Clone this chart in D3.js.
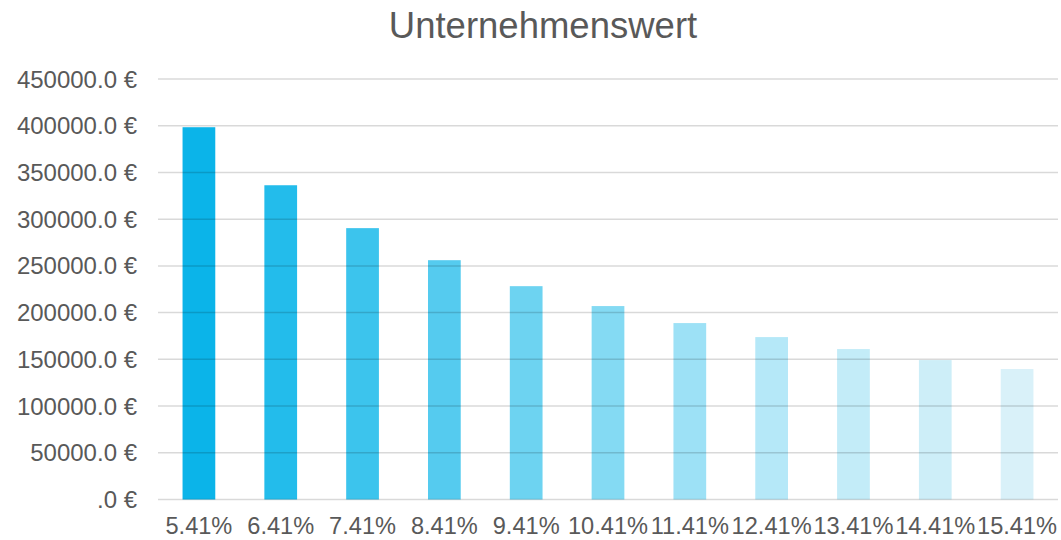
<!DOCTYPE html>
<html lang="de">
<head>
<meta charset="UTF-8">
<title>Unternehmenswert</title>
<script src="https://d3js.org/d3.v7.min.js"></script>
<style>
    body { margin: 0; background: #fff; }
    text { font-family: "Liberation Sans", Arial, sans-serif; fill: #595959; }
</style>
</head>
<body>
<svg id="chart"></svg>
<script>
    // data
    const rates = ["5.41%", "6.41%", "7.41%", "8.41%", "9.41%", "10.41%", "11.41%", "12.41%", "13.41%", "14.41%", "15.41%"];
    const values = [398400, 336300, 290400, 256100, 228300, 207000, 188800, 173800, 161000, 149200, 139600];
    const yTicks = [0, 50000, 100000, 150000, 200000, 250000, 300000, 350000, 400000, 450000];
    const barColors = ["#0BB4E9", "#23BCEB", "#3CC4ED", "#55CBEF", "#6DD3F1", "#84DAF3",
                       "#9DE1F6", "#B5E8F8", "#C3ECF8", "#CDEEF8", "#D9F1F9"];

    const width = 1061, height = 540;
    const margin = {top: 79, right: 3, bottom: 40, left: 158};

    const svg = d3.select("#chart").attr("width", width).attr("height", height);

    const x = d3.scaleBand()
        .domain(rates)
        .range([margin.left, width - margin.right])
        .paddingInner(0.6)
        .paddingOuter(0.3);

    const y = d3.scaleLinear()
        .domain([0, 450000])
        .range([height - margin.bottom - 0.5, margin.top]);

    const yFormat = d => (d === 0 ? ".0" : d3.format(".1f")(d)) + " €";

    // bars
    svg.append("g")
        .selectAll("rect")
        .data(values)
        .join("rect")
        .attr("x", (d, i) => x(rates[i]))
        .attr("y", d => y(d))
        .attr("width", x.bandwidth())
        .attr("height", d => y(0) - y(d))
        .attr("fill", (d, i) => barColors[i]);

    // gridlines on top, semi transparent like the original
    svg.append("g")
        .selectAll("line")
        .data(yTicks)
        .join("line")
        .attr("x1", margin.left)
        .attr("x2", width - margin.right)
        .attr("y1", d => y(d))
        .attr("y2", d => y(d))
        .attr("stroke", "rgba(0,0,0,0.15)")
        .attr("stroke-width", 1.5);

    // y labels
    svg.append("g")
        .selectAll("text")
        .data(yTicks)
        .join("text")
        .attr("x", 137)
        .attr("y", d => y(d) + 8.5)
        .attr("text-anchor", "end")
        .style("font-size", "24px")
        .text(yFormat);

    // x labels
    svg.append("g")
        .selectAll("text")
        .data(rates)
        .join("text")
        .attr("x", d => x(d) + x.bandwidth() / 2)
        .attr("y", 534)
        .attr("text-anchor", "middle")
        .style("font-size", "23.6px")
        .text(d => d);

    // title
    svg.append("text")
        .attr("x", 543)
        .attr("y", 38)
        .attr("text-anchor", "middle")
        .style("font-size", "36.5px")
        .text("Unternehmenswert");
</script>
</body>
</html>
